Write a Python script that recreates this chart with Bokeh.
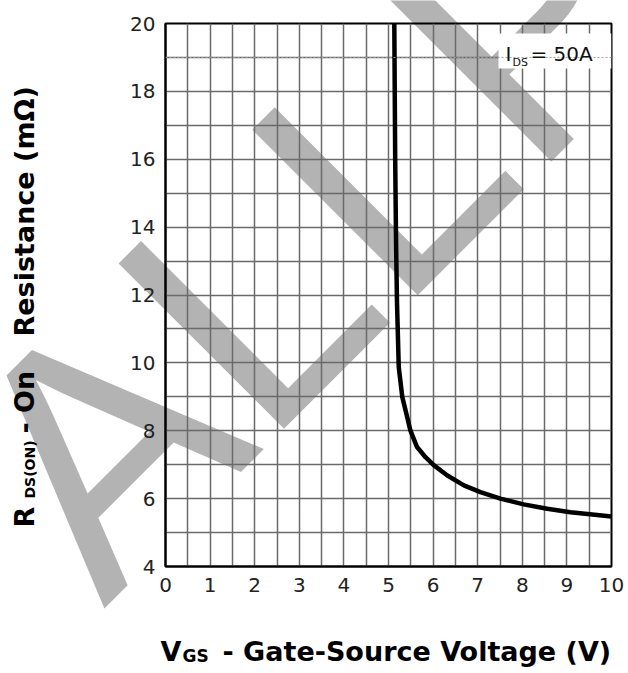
import math
from bokeh.plotting import figure
from bokeh.models import Range1d, FixedTicker, Label, BoxAnnotation, Span
from bokeh.core.properties import value
from bokeh.embed import file_html
from bokeh.resources import INLINE

# ---- data ----
vgs = [5.13, 5.15, 5.17, 5.19, 5.23, 5.31, 5.42, 5.49, 5.64, 5.83, 6.02,
       6.32, 6.69, 7.06, 7.51, 8.03, 8.56, 9.08, 10.0]
rds = [20.0, 16.0, 13.5, 11.8, 9.87, 8.99, 8.40, 8.01, 7.52, 7.22, 6.98,
       6.68, 6.39, 6.19, 6.00, 5.83, 5.70, 5.60, 5.47]

x_ticks = [0, 1, 2, 3, 4, 5, 6, 7, 8, 9, 10]
y_ticks = [4, 6, 8, 10, 12, 14, 16, 18, 20]
x_grid = [i * 0.5 for i in range(21)]
y_grid = [4, 5, 6, 7, 8, 9, 10, 11, 12, 13, 14, 15, 16, 17, 18, 19, 20]

W, H = 626, 671
FL, FR, FT, FB = 165.0, 611.0, 23.0, 566.0
def dx(px):
    return (px - FL) / (FR - FL) * 10.0
def dy(py):
    return 4.0 + (FB - py) / (FB - FT) * 16.0

# ================= background layer: watermark + axis titles =================
bg = figure(frame_width=W, frame_height=H, min_border=0,
            min_border_left=0, min_border_right=0,
            min_border_top=0, min_border_bottom=0,
            x_range=Range1d(0, W), y_range=Range1d(0, H),
            x_axis_type=None, y_axis_type=None,
            output_backend="svg", toolbar_location=None)
bg.grid.visible = False
bg.outline_line_color = None
bg.background_fill_color = "white"
bg.border_fill_color = "white"

bg.text(x=[20], y=[H - 525], text=["ALLP"], angle=math.pi / 4,
        text_font=value("Liberation Sans"), text_font_size="340px",
        text_color="#808080", text_alpha=0.6,
        text_align="left", text_baseline="alphabetic")

# x-axis title pieces (baseline corrected for Bokeh's alphabetic offset)
xt_text = ["V", "GS", "- Gate-Source Voltage (V)"]
xt_px = [160, 182, 222]
xt_py = [651, 655, 651]
xt_size = ["27px", "17px", "27px"]
for t, px, py, s in zip(xt_text, xt_px, xt_py, xt_size):
    bg.text(x=[px], y=[H - py], text=[t], text_font=value("DejaVu Sans"),
            text_font_style="bold", text_font_size=s, text_color="black",
            text_align="left", text_baseline="alphabetic")

# y-axis title pieces
yt_text = ["R", "DS(ON)", "- On", "Resistance (mΩ)"]
yt_py = [527, 498, 433, 336]
yt_px = [24, 29, 24, 24]
yt_size = ["27px", "14px", "27px", "27px"]
for t, px, py, s in zip(yt_text, yt_px, yt_py, yt_size):
    bg.text(x=[px], y=[H - py], text=[t], angle=math.pi / 2,
            text_font=value("DejaVu Sans"), text_font_style="bold",
            text_font_size=s, text_color="black",
            text_align="left", text_baseline="alphabetic")

# ================= chart layer (drawn over the background) =================
p = figure(frame_width=446, frame_height=543,
           x_range=Range1d(0, 10), y_range=Range1d(4, 20),
           output_backend="svg", toolbar_location=None,
           min_border_left=165, min_border_right=15,
           min_border_top=23, min_border_bottom=105)
p.background_fill_alpha = 0
p.border_fill_alpha = 0
p.outline_line_color = "black"
p.outline_line_width = 2
p.margin = (-H, 0, 0, 0)

p.xaxis.ticker = FixedTicker(ticks=x_ticks)
p.yaxis.ticker = FixedTicker(ticks=y_ticks)
p.xgrid.ticker = FixedTicker(ticks=x_grid)
p.ygrid.ticker = FixedTicker(ticks=y_grid)
for g in (p.xgrid, p.ygrid):
    g.grid_line_color = "#6a6a6a"
    g.grid_line_width = 1.5

for ax in (p.xaxis, p.yaxis):
    ax.axis_line_color = "black"
    ax.axis_line_width = 2
    ax.major_tick_line_color = None
    ax.minor_tick_line_color = None
    ax.major_label_text_font = "DejaVu Sans"
    ax.major_label_text_font_size = "20px"
    ax.major_label_text_color = "#222222"
p.xaxis.major_label_standoff = 5
p.yaxis.major_label_standoff = 4

p.line(vgs, rds, line_color="black", line_width=4.5)

box = BoxAnnotation(left=dx(498), right=10, top=dy(33), bottom=dy(68),
                    fill_color="white", fill_alpha=1.0, line_color=None)
p.add_layout(box)
p.add_layout(Span(location=19, dimension="width", line_color="#a0a0a0",
                  line_width=1, line_dash="2 2"))
for txt, px, py, size in [("I", 505, 53, "20px"), ("DS", 512, 62, "11px"),
                          ("= 50A", 530, 53, "20px")]:
    p.add_layout(Label(x=px, y=py, x_units="canvas", y_units="canvas",
                       text=txt, text_font="DejaVu Sans",
                       text_font_size=size, text_color="#111111",
                       text_align="left", text_baseline="alphabetic"))

open("out.html", "w").write(file_html([bg, p], INLINE))
